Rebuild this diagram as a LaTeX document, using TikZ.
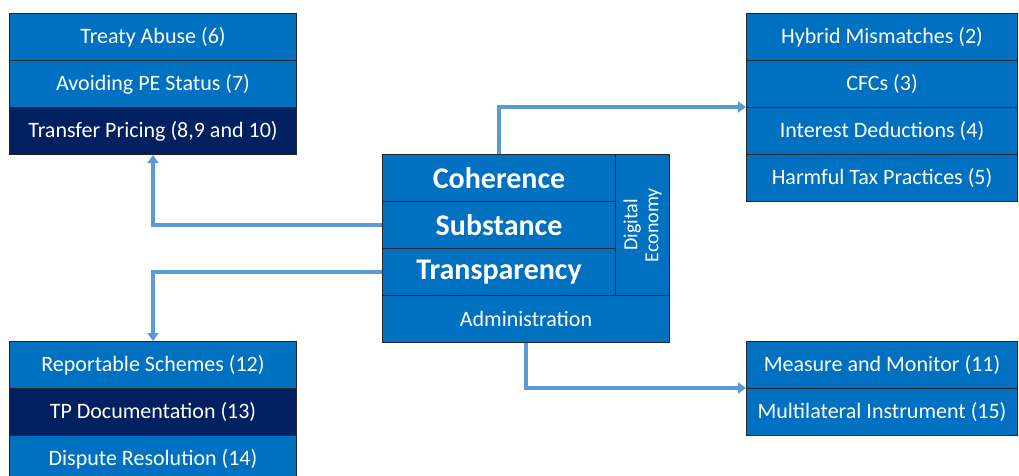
\documentclass[tikz,border=0pt]{standalone}
\usepackage{fontspec}
\setmainfont{Carlito}
\usetikzlibrary{arrows.meta}
\definecolor{midblue}{RGB}{0,112,192}
\definecolor{navy}{RGB}{0,32,96}
\definecolor{linkblue}{RGB}{91,155,213}
\tikzset{
  cell/.style={draw=black!85, line width=1pt, fill=midblue, text=white, inner sep=0pt,
    minimum width=287pt, minimum height=47pt, anchor=north west,
    font=\fontsize{22}{25}\selectfont},
  darkcell/.style={cell, fill=navy},
  rcell/.style={cell, minimum width=271pt},
  bigcell/.style={cell, minimum width=233pt, font=\fontsize{30}{34}\selectfont\bfseries},
  link/.style={draw=linkblue, line width=3.4pt, -{Triangle[length=8pt,width=11pt]}}
}
\begin{document}
\begin{tikzpicture}[x=1pt,y=-1pt]
\useasboundingbox (0,0) rectangle (1019,475);
% top-left
\node[cell] (TL1) at (9,13) {Treaty Abuse (6)};
\node[cell] (TL2) at (9,60) {Avoiding PE Status (7)};
\node[darkcell] (TL3) at (9,107) {Transfer Pricing (8,9 and 10)};
% top-right
\node[rcell] (TR1) at (746,13) {Hybrid Mismatches (2)};
\node[rcell] (TR2) at (746,60) {CFCs (3)};
\node[rcell] (TR3) at (746,107) {Interest Deductions (4)};
\node[rcell] (TR4) at (746,154) {Harmful Tax Practices (5)};
% centre
\node[bigcell] (C) at (382,154) {Coherence};
\node[bigcell] (S) at (382,201) {Substance};
\node[bigcell] (T) at (382,248) {Transparency};
\node[cell, minimum width=54pt, minimum height=141pt] (D) at (615,154) {};
\node[text=white, rotate=90, align=center, font=\fontsize{20}{21}\selectfont] (DL) at (D.center) {Digital\\Economy};
\node[cell] (A) at (382,295) {Administration};
% bottom-left
\node[cell] (BL1) at (9,341) {Reportable Schemes (12)};
\node[darkcell] (BL2) at (9,388) {TP Documentation (13)};
\node[cell] (BL3) at (9,435) {Dispute Resolution (14)};
% bottom-right
\node[rcell] (BR1) at (746,341) {Measure and Monitor (11)};
\node[rcell] (BR2) at (746,388) {Multilateral Instrument (15)};
% connectors
\draw[link] (C.north) |- (TR3.north west);
\draw[link] (S.west) -| (TL3.south);
\draw[link] (T.west) -| (BL1.north);
\draw[link] (A.south) |- (BR2.north west);
\end{tikzpicture}
\end{document}
